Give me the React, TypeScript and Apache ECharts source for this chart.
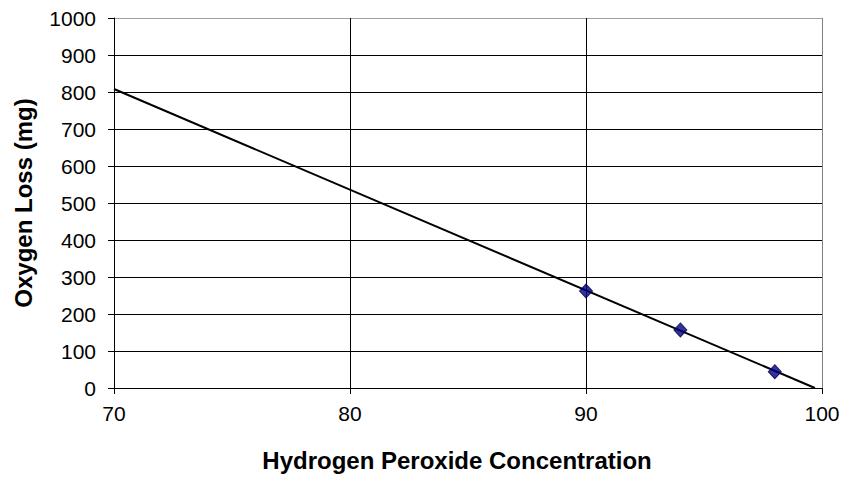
import React, { useEffect, useRef } from "react";
import * as echarts from "echarts";

const measuredPoints: [number, number][] = [
  [90, 262],
  [94, 157],
  [98, 44],
];
const trendLine: [number, number][] = [
  [70, 808],
  [99.7, 0],
];
const xTitle = "Hydrogen Peroxide Concentration";
const yTitle = "Oxygen Loss (mg)";

const FONT = "'Liberation Sans', Arial, sans-serif";

export default function App() {
  const ref = useRef<HTMLDivElement>(null);
  useEffect(() => {
    if (!ref.current) return;
    const chart = echarts.init(ref.current, null, { renderer: "svg" });
    chart.setOption({
      animation: false,
      backgroundColor: "#ffffff",
      grid: { left: 114, right: 24, top: 18, bottom: 93, containLabel: false },
      xAxis: {
        type: "value",
        min: 70,
        max: 100,
        interval: 10,
        name: xTitle,
        nameLocation: "middle",
        nameGap: 60,
        nameTextStyle: {
          fontFamily: FONT,
          fontSize: 24,
          fontWeight: "bold",
          color: "#000",
          padding: [0, 22, 0, 0],
        },
        axisLine: { show: true, onZero: false, lineStyle: { color: "#000", width: 1 } },
        axisTick: { show: true, inside: false, length: 6, lineStyle: { color: "#000" } },
        axisLabel: {
          fontFamily: FONT,
          fontSize: 21,
          color: "#000",
          margin: 15,
          formatter: (v: number) => String(v),
        },
        splitLine: {
          show: true,
          lineStyle: { color: ["#000", "#000", "#000", "#808080"], width: 1 },
        },
      },
      yAxis: {
        type: "value",
        min: 0,
        max: 1000,
        interval: 100,
        name: yTitle,
        nameLocation: "middle",
        nameGap: 79,
        nameRotate: 90,
        nameTextStyle: { fontFamily: FONT, fontSize: 24, fontWeight: "bold", color: "#000" },
        axisLine: { show: true, lineStyle: { color: "#000", width: 1 } },
        axisTick: { show: true, inside: false, length: 6, lineStyle: { color: "#000" } },
        axisLabel: {
          fontFamily: FONT,
          fontSize: 21,
          color: "#000",
          margin: 18,
          formatter: (v: number) => String(v),
        },
        splitLine: {
          show: true,
          lineStyle: {
            color: ["#000", "#000", "#000", "#000", "#000", "#000", "#000", "#000", "#000", "#000", "#a0a0a0"],
            width: 1,
          },
        },
      },
      series: [
        {
          type: "line",
          data: trendLine,
          symbol: "none",
          lineStyle: { color: "#000", width: 2 },
          z: 2,
        },
        {
          type: "scatter",
          data: measuredPoints,
          symbol: "diamond",
          symbolSize: [13, 14],
          itemStyle: { color: "#000080", borderColor: "#000050", borderWidth: 1 },
          z: 3,
        },
      ],
    });
    return () => chart.dispose();
  }, []);
  return (
    <div
      ref={ref}
      style={{ position: "fixed", left: 0, top: 0, width: 846, height: 481 }}
    />
  );
}
